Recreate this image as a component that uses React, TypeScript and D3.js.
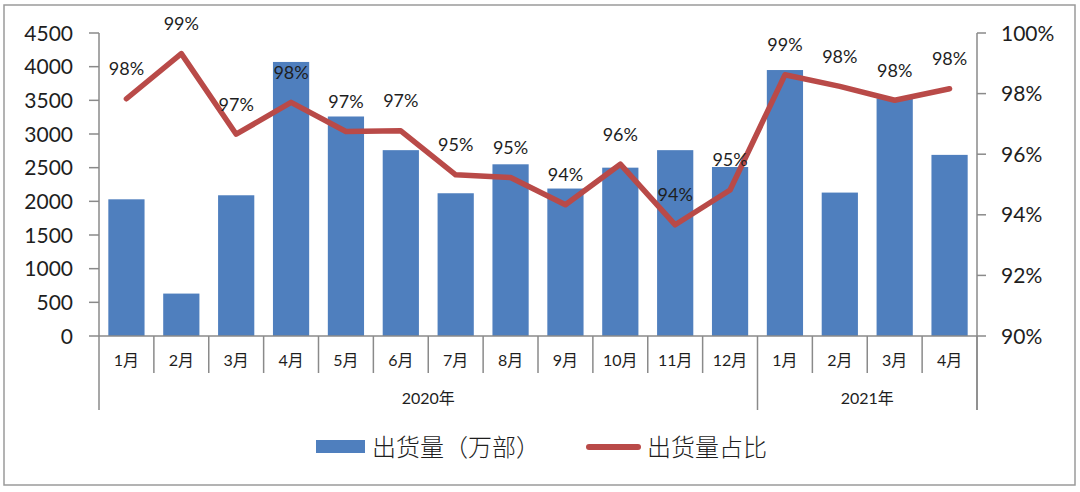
import React from 'react';
import * as d3 from 'd3';

// monthly phone shipments (万部) and their share
const months = ['1月', '2月', '3月', '4月', '5月', '6月', '7月', '8月', '9月', '10月', '11月', '12月', '1月', '2月', '3月', '4月'];
const shipments = [2030, 630, 2090, 4070, 3260, 2760, 2120, 2550, 2190, 2500, 2760, 2510, 3950, 2130, 3530, 2690];
const shares = [97.83, 99.32, 96.66, 97.71, 96.75, 96.77, 95.32, 95.23, 94.33, 95.67, 93.67, 94.82, 98.62, 98.24, 97.78, 98.16];
const years = ['2020年', '2021年'];
const yearSpans = [12, 4];
const leftTicks = [0, 500, 1000, 1500, 2000, 2500, 3000, 3500, 4000, 4500];
const rightTicks = [90, 92, 94, 96, 98, 100];

const W = 1080;
const H = 492;
const left = 99;
const right = 977;
const top = 33;
const bottom = 336;

const BAR = '#4f7fbe';
const LINE = '#b94a48';
const AXIS = '#8a8a8a';
const TEXT = '#1e1e1e';
const FONT = 'Lato, "Noto Sans CJK SC", sans-serif';
const CJK = '"Noto Sans CJK SC", sans-serif';

const App = () => {
  const x = d3
    .scaleBand<number>()
    .domain(d3.range(months.length))
    .range([left, right])
    .paddingInner(0.34)
    .paddingOuter(0.17);
  const cx = (i: number) => (x(i) as number) + x.bandwidth() / 2;
  const edge = (i: number) => left + i * x.step();

  const yL = d3.scaleLinear().domain([0, 4500]).range([bottom, top]);
  const yR = d3.scaleLinear().domain([90, 100]).range([bottom, top]);

  const line = d3
    .line<number>()
    .x((_, i) => cx(i))
    .y((d) => yR(d));

  // year groups: boundaries in category index
  const bounds = [0];
  yearSpans.forEach((s) => bounds.push(bounds[bounds.length - 1] + s));

  return (
    <svg width={W} height={H} style={{ position: 'absolute', left: 0, top: 0, background: '#fff' }}>
      <rect x={4} y={5} width={1071} height={480} fill="none" stroke="#9a9a9a" strokeWidth={1.5} />

      {/* bars */}
      {shipments.map((v, i) => (
        <rect key={i} x={x(i)} y={yL(v)} width={x.bandwidth()} height={bottom - yL(v)} fill={BAR} />
      ))}

      {/* left axis */}
      <line x1={left} x2={left} y1={top} y2={bottom} stroke={AXIS} strokeWidth={1.5} />
      {leftTicks.map((t) => (
        <g key={t}>
          <line x1={left - 10} x2={left} y1={yL(t)} y2={yL(t)} stroke={AXIS} strokeWidth={1.5} />
          <text x={73} y={yL(t)} dy="0.36em" textAnchor="end" fontSize={21} fontFamily={FONT} fill={TEXT}>
            {t}
          </text>
        </g>
      ))}

      {/* right axis */}
      <line x1={right} x2={right} y1={top} y2={410} stroke={AXIS} strokeWidth={1.5} />
      {rightTicks.map((t) => (
        <g key={t}>
          <line x1={right} x2={right + 9} y1={yR(t)} y2={yR(t)} stroke={AXIS} strokeWidth={1.5} />
          <text x={1001} y={yR(t)} dy="0.36em" fontSize={21} fontFamily={FONT} fill={TEXT}>
            {t}%
          </text>
        </g>
      ))}

      {/* category axis */}
      <line x1={left} x2={right} y1={bottom} y2={bottom} stroke={AXIS} strokeWidth={1.5} />
      {d3.range(months.length + 1).map((i) => (
        <line
          key={i}
          x1={edge(i)}
          x2={edge(i)}
          y1={bottom}
          y2={bounds.includes(i) ? 410 : 373}
          stroke={AXIS}
          strokeWidth={1.5}
        />
      ))}
      {months.map((m, i) => (
        <text key={i} x={cx(i)} y={360} dy="0.36em" textAnchor="middle" fontSize={16} fontFamily={FONT} fill={TEXT}>
          {m}
        </text>
      ))}
      {years.map((yr, k) => (
        <text
          key={yr}
          x={(edge(bounds[k]) + edge(bounds[k + 1])) / 2}
          y={398}
          dy="0.36em"
          textAnchor="middle"
          fontSize={16}
          fontFamily={FONT}
          fill={TEXT}
        >
          {yr}
        </text>
      ))}

      {/* share line */}
      <path d={line(shares) || ''} fill="none" stroke={LINE} strokeWidth={5.5} strokeLinejoin="round" strokeLinecap="round" />
      {shares.map((v, i) => (
        <text key={i} x={cx(i)} y={yR(v) - 30} dy="0.36em" textAnchor="middle" fontSize={18} fontFamily={FONT} fill={TEXT}>
          {Math.round(v)}%
        </text>
      ))}

      {/* legend */}
      <rect x={316} y={440} width={49} height={13} fill={BAR} />
      <text x={372} y={447} dy="0.36em" fontSize={24} fontWeight={300} fontFamily={CJK} fill={TEXT}>
        出货量（万部）
      </text>
      <line x1={589} x2={638} y1={447} y2={447} stroke={LINE} strokeWidth={6} strokeLinecap="round" />
      <text x={647} y={447} dy="0.36em" fontSize={24} fontWeight={300} fontFamily={CJK} fill={TEXT}>
        出货量占比
      </text>
    </svg>
  );
};

export default App;
